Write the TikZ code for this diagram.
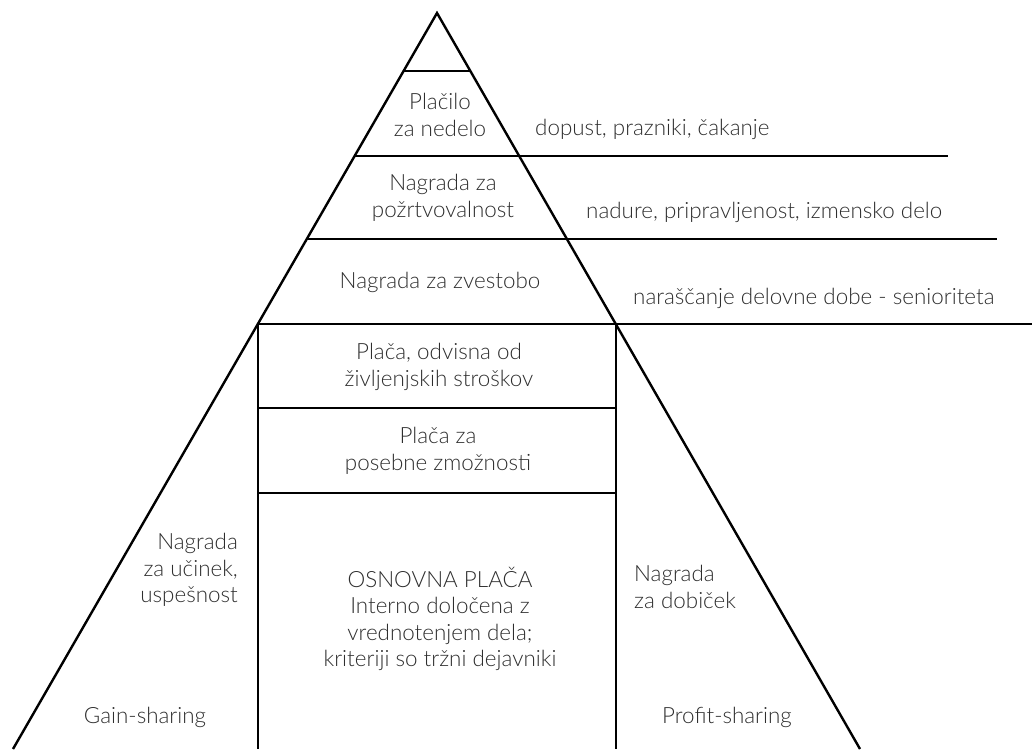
\documentclass[tikz,border=0pt]{standalone}
\usepackage{fontspec}
\setmainfont{Lato Light}
\definecolor{ink}{HTML}{2E2E2E}
\begin{document}
\begin{tikzpicture}[x=1pt,y=-1pt,
  edge/.style={line width=2.4pt,black},
  lbl/.style={font=\fontsize{22.4}{26.5}\selectfont,text=ink,inner sep=0pt},
  ctr/.style={lbl,align=center},
  lft/.style={lbl,align=left,anchor=west},
  rgt/.style={lbl,align=right,anchor=east}]
\useasboundingbox (0,0) rectangle (1032,749);
% pyramid corners
\coordinate (apex) at (437,13);
\coordinate (bl) at (13,749);
\coordinate (br) at (860,749);
% outline
\draw[edge] (bl) -- (apex) -- (br);
% horizontal tiers (left end on the left slope)
\draw[edge] (403.7,71) -- (470.3,71);
\draw[edge] (354.6,156) -- (948,156);
\draw[edge] (306.8,239) -- (997,239);
\draw[edge] (257.8,324) -- (1032,324);
% central column
\draw[edge] (258,324) -- (258,749);
\draw[edge] (616,324) -- (616,749);
\draw[edge] (258,408) -- (616,408);
\draw[edge] (258,493) -- (616,493);
% labels inside the pyramid
\node[ctr] (t1) at (440,115) {Plačilo\\za nedelo};
\node[ctr] (t2) at (443,198) {Nagrada za\\požrtvovalnost};
\node[ctr] (t3) at (440,282) {Nagrada za zvestobo};
\node[ctr] (t4) at (439,367) {Plača, odvisna od\\življenjskih stroškov};
\node[ctr] (t5) at (438,451) {Plača za\\posebne zmožnosti};
\node[ctr] (t6) at (440,619) {OSNOVNA PLAČA\\Interno določena z\\vrednotenjem dela;\\kriteriji so tržni dejavniki};
\node[rgt] (t7) at (238,570) {Nagrada\\za učinek,\\uspešnost};
\node[lft] (t8) at (634,587) {Nagrada\\za dobiček};
\node[ctr] (t9) at (145,717) {Gain-sharing};
\node[ctr] (t10) at (727,717) {Profit-sharing};
% labels to the right
\node[lft] (r1) at (535,129) {dopust, prazniki, čakanje};
\node[lft] (r2) at (586,212) {nadure, pripravljenost, izmensko delo};
\node[lft] (r3) at (633,298) {naraščanje delovne dobe - senioriteta};
\end{tikzpicture}
\end{document}
